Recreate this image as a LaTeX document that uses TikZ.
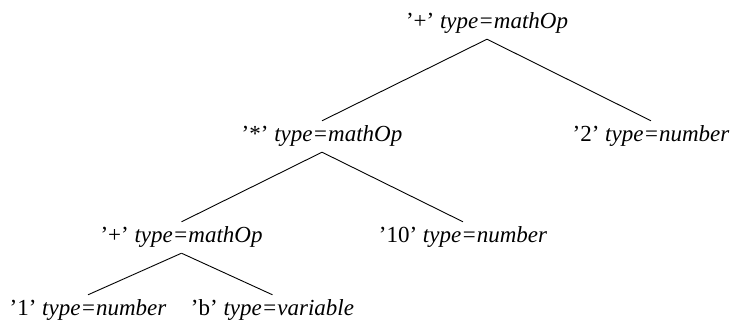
\documentclass[tikz,border=0pt]{standalone}
\usepackage{fontspec}
\setmainfont{Liberation Serif}
\begin{document}
\begin{tikzpicture}[x=1pt,y=-1pt,
  lbl/.style={anchor=base, inner sep=0pt, text height=21pt, text depth=10pt,
              font=\fontsize{23}{27}\selectfont},
  branch/.style={draw=black, line width=0.9pt}]
\useasboundingbox (0,0) rectangle (734,323);

% expression tree nodes
\node[lbl] (root) at (487,29)  {’+’ \textit{type=mathOp}};
\node[lbl] (mul)  at (322,142) {’*’ \textit{type=mathOp}};
\node[lbl] (two)  at (651,142) {’2’ \textit{type=number}};
\node[lbl] (plus) at (181.5,243) {’+’ \textit{type=mathOp}};
\node[lbl] (ten)  at (463,243) {’10’ \textit{type=number}};
\node[lbl] (one)  at (88,316)  {’1’ \textit{type=number}};
\node[lbl] (varb) at (272.5,316) {’b’ \textit{type=variable}};

% branches
\draw[branch] (root.south) -- (mul.north);
\draw[branch] (root.south) -- (two.north);
\draw[branch] (mul.south)  -- (plus.north);
\draw[branch] (mul.south)  -- (ten.north);
\draw[branch] (plus.south) -- (one.north);
\draw[branch] (plus.south) -- (varb.north);
\end{tikzpicture}
\end{document}
